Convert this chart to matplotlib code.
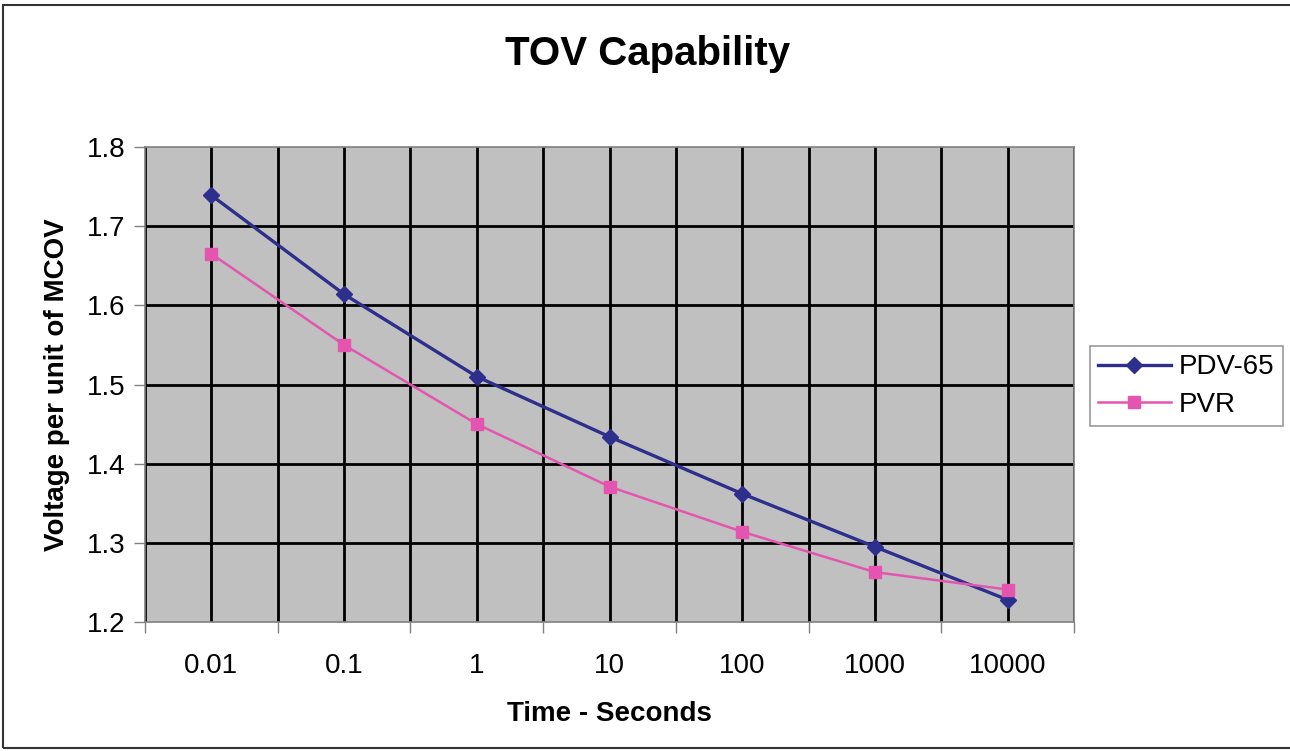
import numpy as np
import matplotlib
matplotlib.use('Agg')
import matplotlib.pyplot as plt
from matplotlib.patches import Rectangle

plt.rcParams['font.family'] = ['Liberation Sans', 'DejaVu Sans']

# TOV capability data
times   = ['0.01', '0.1', '1', '10', '100', '1000', '10000']
pdv65   = [1.739, 1.614, 1.510, 1.434, 1.362, 1.295, 1.228]
pvr     = [1.665, 1.550, 1.450, 1.371, 1.314, 1.263, 1.241]

fig = plt.figure(figsize=(12.9, 7.51), dpi=100)
ax = fig.add_axes([145/1290., 1-622/751., (1074-145)/1290., (622-147)/751.])

x = np.arange(len(times))

ax.set_facecolor('#c0c0c0')
ax.set_xlim(-0.5, len(times) - 0.5)
ax.set_ylim(1.2, 1.8)

# grid: vertical lines at every half category, horizontal every 0.1
for gx in np.arange(-0.5, len(times), 0.5):
	ax.axvline(gx, color='black', lw=2, zorder=1)
for gy in np.arange(1.3, 1.8, 0.1):
	ax.axhline(gy, color='black', lw=2, zorder=1)

ax.plot(x, pdv65, color='#2e2e8c', lw=2.4, marker='D', ms=8, label='PDV-65', zorder=3)
ax.plot(x, pvr, color='#e455b0', lw=1.8, marker='s', ms=9, label='PVR', zorder=3)

ax.set_xticks(x)
ax.set_xticklabels(times, fontsize=20)
ax.tick_params(axis='x', length=0, pad=22)
ax.set_xticks(np.arange(-0.5, len(times), 1.0), minor=True)
ax.tick_params(axis='x', which='minor', length=8, color='#808080', width=1)

ax.set_yticks(np.arange(1.2, 1.81, 0.1))
ax.set_yticklabels(['%.1f' % v for v in np.arange(1.2, 1.81, 0.1)], fontsize=20)
ax.tick_params(axis='y', length=8, color='#808080', width=1, pad=6)

for s in ax.spines.values():
	s.set_color('#808080')
	s.set_linewidth(1.2)

ax.set_xlabel('Time - Seconds', fontsize=20, fontweight='bold', labelpad=16)
ax.set_ylabel('Voltage per unit of MCOV', fontsize=20, fontweight='bold', labelpad=12)

fig.text(648/1290., 1-54/751., 'TOV Capability', fontsize=29, fontweight='bold',
	ha='center', va='center')

leg = fig.legend(loc='center left', bbox_to_anchor=(1090/1290., 1-386/751.), fontsize=20,
	frameon=True, fancybox=False, edgecolor='#808080', handlelength=2.6,
	borderpad=0.3, labelspacing=0.4, handletextpad=0.3, borderaxespad=0)
leg.get_frame().set_linewidth(1.2)

# outer chart border
fig.patches.append(Rectangle((3/1290., 3/751.), 1.2, 1-8/751., transform=fig.transFigure,
	fill=False, edgecolor='#333333', lw=1.5))

fig.savefig('out.png', dpi=100)
